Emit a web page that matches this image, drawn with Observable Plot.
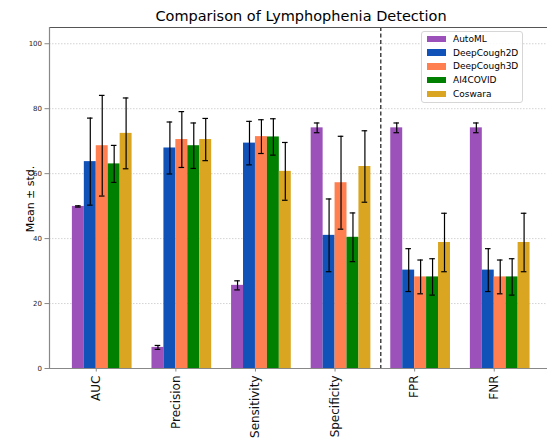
<!DOCTYPE html>
<html><head><meta charset="utf-8">
<script src="https://cdn.jsdelivr.net/npm/d3@7"></script>
<script src="https://cdn.jsdelivr.net/npm/@observablehq/plot@0.6"></script>
<style>
body{margin:0;background:#fff;font-family:"DejaVu Sans",sans-serif;overflow:hidden}
#wrap{position:relative;width:547px;height:440px;overflow:hidden}
#title{position:absolute;left:49px;width:504px;top:8px;text-align:center;font-size:14.5px;color:#000;white-space:nowrap;line-height:normal}
#ylabel{position:absolute;left:29.5px;top:199px;transform:translate(-50%,-50%) rotate(-90deg);font-size:11px;color:#000;white-space:nowrap;line-height:normal}
#legend{position:absolute;left:421px;top:31px;width:100px;height:70px;border:1px solid #d6d6d6;border-radius:3px;background:rgba(255,255,255,0.85);font-size:9px;color:#000}
.row{position:absolute;left:0;height:13.7px;display:flex;align-items:center;white-space:nowrap}
.sw{width:19px;height:6.7px;margin-left:5px;margin-right:7px}
</style>
</head><body>
<div id="wrap">
<div id="chart"></div>
<div id="title">Comparison of Lymphophenia Detection</div>
<div id="ylabel"></div>
<div id="legend"></div>
</div>
<script>
const metrics = ["AUC", "Precision", "Sensitivity", "Specificity", "FPR", "FNR"];
const models = ["AutoML", "DeepCough2D", "DeepCough3D", "AI4COVID", "Coswara"];
const colors = ["#9C50B9", "#1152B9", "#FF7F50", "#008000", "#DAA520"];

const autoMLMean      = [49.9, 6.5, 25.6, 74.1, 74.1, 74.1];
const autoMLStd       = [0.2, 0.6, 1.4, 1.5, 1.5, 1.5];
const deepCough2DMean = [63.7, 67.9, 69.4, 41.0, 30.3, 30.3];
const deepCough2DStd  = [13.4, 8.0, 6.7, 11.2, 6.6, 6.6];
const deepCough3DMean = [68.6, 70.5, 71.4, 57.2, 28.2, 28.2];
const deepCough3DStd  = [15.5, 8.6, 5.2, 14.3, 5.2, 5.2];
const ai4covidMean    = [63.0, 68.6, 71.3, 40.4, 28.2, 28.2];
const ai4covidStd     = [5.7, 7.0, 5.6, 7.5, 5.6, 5.6];
const coswaraMean     = [72.4, 70.5, 60.7, 62.2, 38.8, 38.8];
const coswaraStd      = [10.9, 6.5, 8.9, 11.0, 9.0, 9.0];

const yTicks = [0, 20, 40, 60, 80, 100];
const yLabel = "Mean ± std.";

const means = [autoMLMean, deepCough2DMean, deepCough3DMean, ai4covidMean, coswaraMean];
const stds = [autoMLStd, deepCough2DStd, deepCough3DStd, ai4covidStd, coswaraStd];

const barW = 0.15;
const capHalf = 0.035;
const rows = [];
models.forEach((model, k) => metrics.forEach((metric, i) => {
  const x1 = i + (k - 2) * barW;
  rows.push({model, metric, i, mean: means[k][i], std: stds[k][i], x1, x2: x1 + barW, xc: x1 + barW / 2});
}));
const specRight = d3.max(rows.filter(d => d.metric === "Specificity"), d => d.x2);
const fprLeft = d3.min(rows.filter(d => d.metric === "FPR"), d => d.x1);
const sepX = (specRight + fprLeft) / 2;
const xMin = -0.5875, xMax = 5.669;

const chart = Plot.plot({
  width: 547, height: 440,
  marginLeft: 49, marginRight: 0, marginTop: 27, marginBottom: 72,
  x: {domain: [xMin, xMax], axis: null},
  y: {domain: [0, 105], axis: null},
  color: {domain: models, range: colors},
  style: {fontFamily: "DejaVu Sans", background: "white", color: "black"},
  marks: [
    Plot.ruleY(yTicks.filter(t => t > 0), {stroke: "#c8c8c8", strokeWidth: 0.8, strokeDasharray: "1.5,1.5"}),
    Plot.rect(rows, {x1: "x1", x2: "x2", y1: () => 0, y2: "mean", fill: "model"}),
    Plot.ruleX(rows, {x: "xc", y1: d => d.mean - d.std, y2: d => d.mean + d.std, stroke: "black", strokeWidth: 1.2}),
    Plot.ruleY(rows, {x1: d => d.xc - capHalf, x2: d => d.xc + capHalf, y: d => d.mean + d.std, stroke: "black", strokeWidth: 1.2}),
    Plot.ruleY(rows, {x1: d => d.xc - capHalf, x2: d => d.xc + capHalf, y: d => d.mean - d.std, stroke: "black", strokeWidth: 1.2}),
    Plot.ruleX([sepX], {stroke: "black", strokeWidth: 1.1, strokeDasharray: "4,2.5"}),
    Plot.ruleY([105], {stroke: "#555", strokeWidth: 1}),
    Plot.ruleY([0], {stroke: "#888", strokeWidth: 1.2}),
    Plot.ruleX([xMin], {stroke: "#888", strokeWidth: 1.2}),
    Plot.axisY(yTicks, {tickSize: 4.5, tickPadding: 3, fontSize: 7, stroke: "#888", fill: "#222", label: null}),
    Plot.axisX(d3.range(metrics.length), {tickFormat: i => metrics[i], tickRotate: -90, tickSize: 3.5, tickPadding: 3.5, fontSize: 12, stroke: "#888", fill: "#111", label: null})
  ]
});
document.getElementById("chart").appendChild(chart);
document.getElementById("ylabel").textContent = yLabel;

const legend = document.getElementById("legend");
models.forEach((m, k) => {
  const row = document.createElement("div");
  row.className = "row";
  row.style.top = (0.2 + k * 13.7) + "px";
  const sw = document.createElement("div");
  sw.className = "sw";
  sw.style.background = colors[k];
  const t = document.createElement("span");
  t.textContent = m;
  row.appendChild(sw); row.appendChild(t);
  legend.appendChild(row);
});
</script>
</body></html>
